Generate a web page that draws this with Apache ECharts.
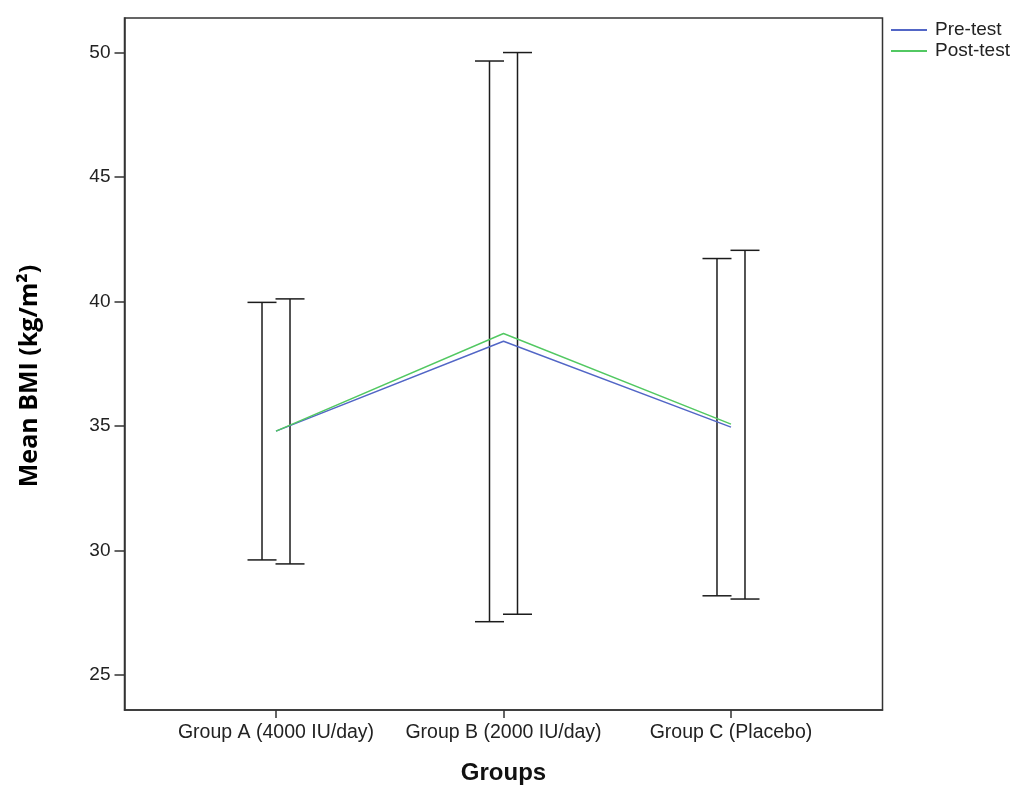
<!DOCTYPE html>
<html>
<head>
<meta charset="utf-8">
<script src="https://cdn.jsdelivr.net/npm/echarts@6/dist/echarts.min.js"></script>
<style>html,body{margin:0;padding:0;background:#fff;}#c{width:1011px;height:785px;}</style>
</head>
<body>
<div id="c"></div>
<script>
var categories = ['Group A (4000 IU/day)', 'Group B (2000 IU/day)', 'Group C (Placebo)'];
var categoryPos = [1, 2, 3];
var preMean = [34.79, 38.40, 34.95];
var preLow = [29.62, 27.14, 28.18];
var preHigh = [39.96, 49.65, 41.72];
var postMean = [34.79, 38.71, 35.07];
var postLow = [29.46, 27.44, 28.05];
var postHigh = [40.10, 49.99, 42.05];
var yTicks = [25, 30, 35, 40, 45, 50];
var seriesNames = ['Pre-test', 'Post-test'];

var FONT = '"Liberation Sans", Arial, sans-serif';
var chart = echarts.init(document.getElementById('c'), null, {renderer: 'canvas'});

function barData(low, high) {
  return categoryPos.map(function (x, i) { return [x, low[i], high[i]]; });
}
function errRender(shift) {
  return function (params, api) {
    var x = api.value(0);
    var lo = api.coord([x, api.value(1)]);
    var hi = api.coord([x, api.value(2)]);
    var px = lo[0] + shift;
    var hw = 14.5;
    var st = {stroke: '#1c1c1c', lineWidth: 1.5};
    return {
      type: 'group',
      children: [
        {type: 'line', shape: {x1: px, y1: hi[1], x2: px, y2: lo[1]}, style: st},
        {type: 'line', shape: {x1: px - hw, y1: hi[1], x2: px + hw, y2: hi[1]}, style: st},
        {type: 'line', shape: {x1: px - hw, y1: lo[1], x2: px + hw, y2: lo[1]}, style: st}
      ]
    };
  };
}
function lineData(m) { return categoryPos.map(function (x, i) { return [x, m[i]]; }); }

var option = {
  backgroundColor: '#fff',
  animation: false,
  grid: {left: 124.5, right: 128.5, top: 18, bottom: 75, show: true, borderColor: '#333', borderWidth: 1.5, outerBoundsMode: 'none', containLabel: false},
  legend: {
    orient: 'vertical', left: 886, top: 14.5, itemGap: 0, itemWidth: 36, itemHeight: 2, icon: 'rect',
    data: seriesNames,
    textStyle: {fontFamily: FONT, fontSize: 19, color: '#222', lineHeight: 21, padding: [0, 0, 0, 3]}
  },
  xAxis: {
    type: 'value', min: 0.334, max: 3.666,
    axisLine: {show: true, lineStyle: {color: '#333', width: 1.5}},
    axisTick: {show: true, length: 8, customValues: categoryPos, lineStyle: {color: '#333', width: 1.5}},
    axisLabel: {customValues: categoryPos, margin: 13, fontFamily: FONT, fontSize: 19.5, color: '#222',
      formatter: function (v) { return categories[Math.round(v) - 1]; }},
    splitLine: {show: false},
    name: 'Groups', nameLocation: 'middle', nameGap: 51,
    nameTextStyle: {fontFamily: FONT, fontSize: 24, fontWeight: 'bold', color: '#111'}
  },
  yAxis: {
    type: 'value', min: 23.595, max: 51.377,
    axisLine: {show: true, lineStyle: {color: '#333', width: 1.5}},
    axisTick: {show: true, length: 10, customValues: yTicks, lineStyle: {color: '#333', width: 1.5}},
    axisLabel: {customValues: yTicks, margin: 14, fontFamily: FONT, fontSize: 19, color: '#222'},
    splitLine: {show: false},
    name: 'Mean BMI (kg/m²)', nameLocation: 'middle', nameRotate: 90, nameGap: 82,
    nameTextStyle: {fontFamily: '"Open Sans", "Liberation Sans", sans-serif', fontSize: 25, fontWeight: 'bold', color: '#000', padding: [0, 24, 0, 0]}
  },
  series: [
    {type: 'custom', name: 'preErr', data: barData(preLow, preHigh), renderItem: errRender(-14), z: 2, silent: true},
    {type: 'custom', name: 'postErr', data: barData(postLow, postHigh), renderItem: errRender(14), z: 2, silent: true},
    {type: 'line', name: seriesNames[0], data: lineData(preMean), symbol: 'none', color: '#5266c6',
      lineStyle: {color: '#5266c6', width: 1.4}, z: 3},
    {type: 'line', name: seriesNames[1], data: lineData(postMean), symbol: 'none', color: '#52c862',
      lineStyle: {color: '#52c862', width: 1.4}, z: 4}
  ]
};
chart.setOption(option);
</script>
</body>
</html>
